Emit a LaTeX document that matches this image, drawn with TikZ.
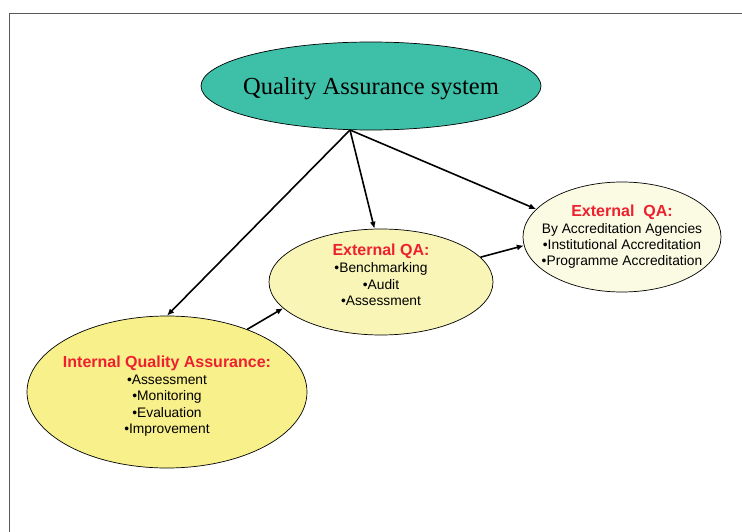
\documentclass[tikz,border=0pt]{standalone}
\usepackage{fontspec}
\setmainfont{Liberation Serif}
\setsansfont{Liberation Sans}
\usetikzlibrary{shapes.geometric,arrows.meta}
\definecolor{qateal}{HTML}{3DBFA8}
\definecolor{qayellow}{HTML}{F8F08A}
\definecolor{qapale}{HTML}{F9F5B6}
\definecolor{qaivory}{HTML}{FBFBE3}
\definecolor{qared}{HTML}{EE2030}
\newcommand{\qahead}[1]{\textcolor{qared}{\bfseries\fontsize{16}{18}\selectfont #1}}
\begin{document}
\begin{tikzpicture}[x=1pt,y=-1pt,
  bubble/.style={ellipse,draw=black,line width=0.7pt,inner sep=-12pt,align=center,
    font=\sffamily\fontsize{13.8}{16.4}\selectfont},
  bubbletext/.style={align=center,inner sep=0pt,font=\sffamily\fontsize{13.8}{16.4}\selectfont},
  link/.style={line width=1.6pt,-{Latex[length=7pt,width=6pt]}}]
\useasboundingbox (0,0) rectangle (742,532);

% frame of the slide
\draw[gray!70!black,line width=0.8pt] (9,545) -- (9,13) -- (760,13);

\node[bubble,fill=qateal,minimum width=340,minimum height=88,text depth=0pt,
  font=\rmfamily\fontsize{24.5}{26}\selectfont] (qa) at (371,86) {Quality Assurance system};

\node[bubble,fill=qayellow,minimum width=280,minimum height=152] (int) at (167,392) {};
\node[bubbletext] (inttext) at (167,396)
  {\qahead{Internal Quality Assurance:}\\[1pt]
   •Assessment\\ •Monitoring\\ •Evaluation\\ •Improvement};

\node[bubble,fill=qapale,minimum width=224,minimum height=106] (mid) at (381,282) {};
\node[bubbletext,font=\sffamily\fontsize{13.8}{16.6}\selectfont] (midtext) at (381,275)
  {\qahead{External QA:}\\
   •Benchmarking\\ •Audit\\ •Assessment};

\node[bubble,fill=qaivory,minimum width=198,minimum height=110] (ext) at (622,237)
  {\qahead{External\ \ QA:}\\
   By Accreditation Agencies\\ •Institutional Accreditation\\ •Programme Accreditation};

\coordinate (hub) at (350,130);

\draw[link] (hub) -- (int.north);
\draw[link] (hub) -- (mid.97);
\draw[link] (hub) -- (ext.162);
\draw[link] (int.38) -- (mid.195);
\draw[link] (mid.14) -- (ext.185);

\end{tikzpicture}
\end{document}
